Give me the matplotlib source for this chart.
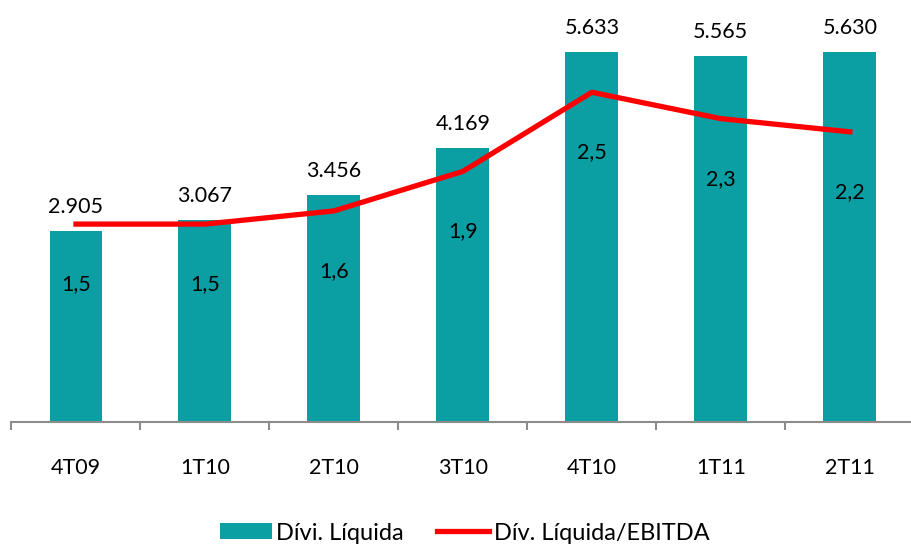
import matplotlib.pyplot as plt
from matplotlib.lines import Line2D
from matplotlib.patches import Patch

# Chart data
quarters = ['4T09', '1T10', '2T10', '3T10', '4T10', '1T11', '2T11']
divida_liquida = [2905, 3067, 3456, 4169, 5633, 5565, 5630]
divida_ebitda = [1.5, 1.5, 1.6, 1.9, 2.5, 2.3, 2.2]
bar_labels = ['2.905', '3.067', '3.456', '4.169', '5.633', '5.565', '5.630']
ratio_labels = ['1,5', '1,5', '1,6', '1,9', '2,5', '2,3', '2,2']

teal = '#0B9EA3'
red = '#FF0000'
plt.rcParams['font.family'] = ['Lato', 'DejaVu Sans']
fs = 15.5

fig = plt.figure(figsize=(9.11, 5.45), dpi=100)
ax = fig.add_axes([0.0126, 0.226, 0.991, 0.774])
x = list(range(len(quarters)))

ax.bar(x, divida_liquida, width=0.41, color=teal, zorder=2)
for xi, v, lab in zip(x, divida_liquida, bar_labels):
    ax.annotate(lab, (xi, v), xytext=(0, 24), textcoords='offset pixels',
                ha='center', va='center', fontsize=fs, color='black')

ax.set_xlim(-0.5, len(quarters) - 0.5)
ax.set_ylim(0, 6420)
ax.set_yticks([])
for s in ['top', 'right', 'left']:
    ax.spines[s].set_visible(False)
ax.spines['bottom'].set_color('#8c8c8c')
ax.spines['bottom'].set_linewidth(1.5)
ax.set_xticks([i - 0.5 for i in range(len(quarters) + 1)])
ax.set_xticklabels([])
ax.set_xticks(x, minor=True)
ax.set_xticklabels(quarters, minor=True, fontsize=fs)
ax.tick_params(axis='x', which='major', direction='out', length=6, width=1.5, color='#8c8c8c')
ax.tick_params(axis='x', which='minor', length=0, pad=26)

ax2 = ax.twinx()
ax2.set_ylim(0, 3.2)
ax2.plot(x, divida_ebitda, color=red, linewidth=3.8, zorder=3)
for xi, v, lab in zip(x, divida_ebitda, ratio_labels):
    ax2.annotate(lab, (xi, v), xytext=(0, -60), textcoords='offset pixels',
                 ha='center', va='center', fontsize=fs, color='black')
ax2.set_yticks([])
for s in ax2.spines.values():
    s.set_visible(False)

handles = [Patch(facecolor=teal, edgecolor='none'),
           Line2D([0], [0], color=red, linewidth=3.8)]
fig.legend(handles, ['Dívi. Líquida', 'Dív. Líquida/EBITDA'], loc='center',
           bbox_to_anchor=(0.51, 0.022), ncol=2, frameon=False, fontsize=17,
           handlelength=2.2, handleheight=0.65, columnspacing=1.4, handletextpad=0.2)

fig.savefig('out.png', dpi=100)
